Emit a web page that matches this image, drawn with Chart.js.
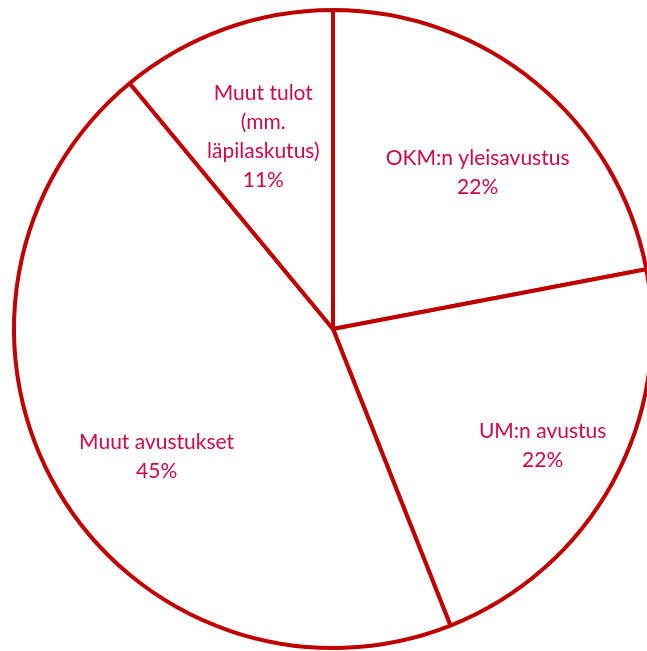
<!DOCTYPE html>
<html>
<head>
<meta charset="utf-8">
<script src="https://cdn.jsdelivr.net/npm/chart.js@4"></script>
<style>
    html, body { margin: 0; padding: 0; background: #fff; overflow: hidden; width: 647px; height: 651px; }
    #wrap { position: absolute; left: -7px; top: -11px; width: 680px; height: 680px; }
</style>
</head>
<body>
<div id="wrap"><canvas id="pie"></canvas></div>
<script>
const labels = [['OKM:n yleisavustus'], ['UM:n avustus'], ['Muut avustukset'], ['Muut tulot', '(mm.', 'läpilaskutus)']];
const values = [22, 22, 45, 11];
const pctLabels = ['22%', '22%', '45%', '11%'];
// where to put each label, as fraction of radius and angle nudge (deg)
const labelRadius = [0.67, 0.75, 0.68, 0.645];
const labelNudge = [3, 0, -5, 0];

const sliceLabels = {
    id: 'sliceLabels',
    afterDatasetsDraw(chart) {
        const ctx = chart.ctx;
        const meta = chart.getDatasetMeta(0);
        ctx.save();
        ctx.fillStyle = '#CC0A4A';
        ctx.font = '21px Lato, "Open Sans", sans-serif';
        ctx.textAlign = 'center';
        ctx.textBaseline = 'middle';
        meta.data.forEach((arc, i) => {
            const p = arc.getProps(['x', 'y', 'startAngle', 'endAngle', 'outerRadius'], true);
            const mid = (p.startAngle + p.endAngle) / 2 + labelNudge[i] * Math.PI / 180;
            const r = p.outerRadius * labelRadius[i];
            const cx = p.x + Math.cos(mid) * r;
            const cy = p.y + Math.sin(mid) * r;
            const lines = labels[i].concat([pctLabels[i]]);
            const lh = 29;
            const top = cy - (lines.length - 1) * lh / 2 + 1;
            lines.forEach((t, j) => ctx.fillText(t, cx, top + j * lh));
        });
        ctx.restore();
    }
};

new Chart(document.getElementById('pie'), {
    type: 'pie',
    data: {
        labels: labels.map(l => l.join(' ')),
        datasets: [{
            data: values,
            backgroundColor: '#ffffff',
            borderColor: '#C00000',
            borderWidth: 4,
            borderAlign: 'center'
        }]
    },
    options: {
        responsive: true,
        maintainAspectRatio: false,
        animation: false,
        radius: 319,
        layout: { padding: 0 },
        plugins: { legend: { display: false }, tooltip: { enabled: false } }
    },
    plugins: [sliceLabels]
});
</script>
</body>
</html>
